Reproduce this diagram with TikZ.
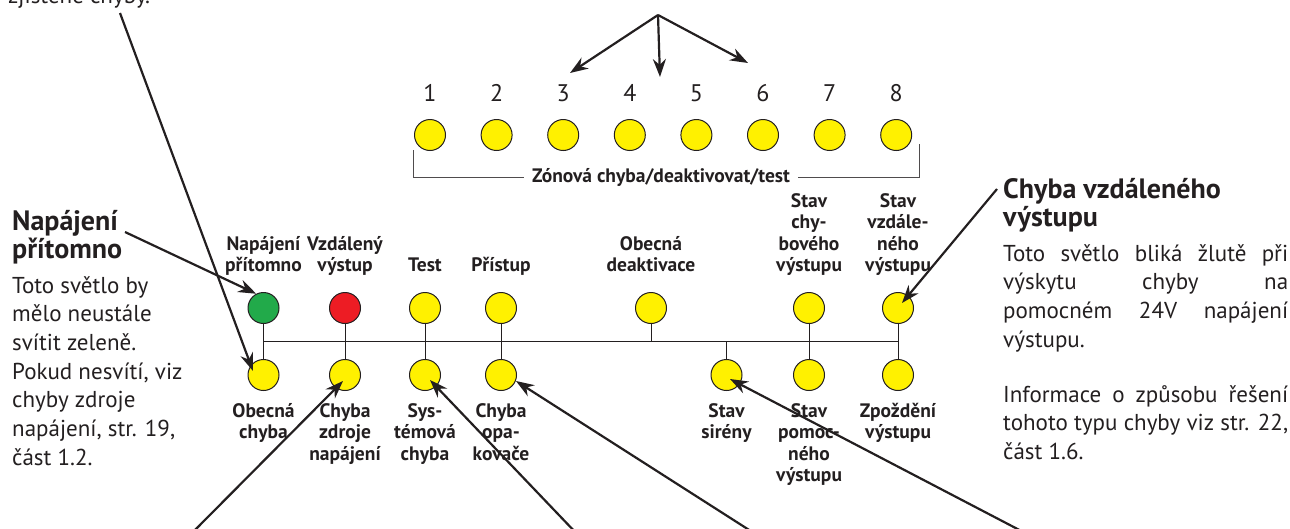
\documentclass[tikz,border=0pt]{standalone}
\usepackage{fontspec}
\setmainfont{PT Sans}
\usetikzlibrary{arrows.meta,calc}

\definecolor{ledyellow}{HTML}{FFF100}
\definecolor{ledgreen}{HTML}{22AA4A}
\definecolor{ledred}{HTML}{ED1C24}
\definecolor{ink}{HTML}{231F20}

\tikzset{
  led/.style={circle,draw=ink,line width=1pt,minimum size=31pt,inner sep=0pt,fill=ledyellow},
  num/.style={font=\fontsize{24}{28}\selectfont,inner sep=0pt},
  toplbl/.style={font=\fontsize{19.5}{21.5}\selectfont\bfseries,align=center,anchor=south,inner sep=0pt},
  botlbl/.style={font=\fontsize{19.5}{21.5}\selectfont\bfseries,align=center,anchor=north,inner sep=0pt},
  zonelbl/.style={font=\fontsize{19.5}{21.5}\selectfont\bfseries,inner xsep=8pt,inner ysep=0pt},
  head/.style={font=\fontsize{28}{28.5}\selectfont\bfseries,align=left,anchor=north west,inner sep=0pt},
  body/.style={font=\fontsize{23}{28.7}\selectfont,align=left,anchor=north west,inner sep=0pt},
  pointer/.style={line width=2.2pt,-{Stealth[length=18pt,width=13pt]}},
  bus/.style={line width=1pt,draw=ink},
  bracket/.style={line width=1pt,draw=ink!80},
}

\begin{document}
\begin{tikzpicture}[x=1pt,y=-1pt,color=ink]
\useasboundingbox (0,0) rectangle (1290,528);
\clip (0,0) rectangle (1290,528);

\node[anchor=base west,font=\fontsize{23}{28.7}\selectfont,inner sep=0pt] (prevtext) at (8,3.5) {zjištěné chyby.};

\foreach \i in {1,...,8}{
  \node[led] (z\i) at ({430+66.6*(\i-1)},135) {};
  \node[num] (n\i) at ({430+66.6*(\i-1)},93) {\i};
}

\node[zonelbl] (zonetext) at (661,177) {Zónová chyba/deaktivovat/test};
\coordinate (brL) at (413,150);
\coordinate (brR) at (919,144);
\draw[bracket] (zonetext.west) -| (brL);
\draw[bracket] (zonetext.east) -| (brR);

\coordinate (zsrc) at (658,15);
\coordinate (ztipA) at (570,73);
\coordinate (ztipB) at (660,77);
\coordinate (ztipC) at (748,63);
\draw[pointer] (zsrc) -- (ztipA);
\draw[pointer] (zsrc) -- (ztipB);
\draw[pointer] (zsrc) -- (ztipC);

\node[led,fill=ledgreen] (napajeni) at (263.5,308) {};
\node[led,fill=ledred] (vzdaleny) at (345,308) {};
\node[led] (test) at (425,308) {};
\node[led] (pristup) at (501,308) {};
\node[led] (deakt) at (651,308) {};
\node[led] (chybvyst) at (809,308) {};
\node[led] (vzdvyst) at (898,308) {};

\node[toplbl] (napajeniL) at (263.5,276) {Napájení\\přítomno};
\node[toplbl] (vzdalenyL) at (345,276) {Vzdálený\\výstup};
\node[toplbl] (testL) at (425,276) {Test\vphantom{p}};
\node[toplbl] (pristupL) at (501,276) {Přístup};
\node[toplbl] (deaktL) at (651,276) {Obecná\\deaktivace\vphantom{p}};
\node[toplbl] (chybvystL) at (809,276) {Stav\\chy-\\bového\\výstupu};
\node[toplbl] (vzdvystL) at (898,276) {Stav\\vzdále-\\ného\\výstupu};

\node[led] (obecna) at (263.5,375) {};
\node[led] (zdroj) at (345,375) {};
\node[led] (system) at (425,375) {};
\node[led] (opakovac) at (501,375) {};
\node[led] (sirena) at (726.5,375) {};
\node[led] (pomocny) at (809,375) {};
\node[led] (zpozdeni) at (898,375) {};

\node[botlbl] (obecnaL) at (263.5,403) {Obecná\\chyba};
\node[botlbl] (zdrojL) at (345,403) {Chyba\\zdroje\\napájení};
\node[botlbl] (systemL) at (425,403) {Sys-\\témová\\chyba};
\node[botlbl] (opakovacL) at (501,403) {Chyba\\opa-\\kovače};
\node[botlbl] (sirenaL) at (726.5,403) {Stav\\sirény};
\node[botlbl] (pomocnyL) at (809,403) {Stav\\pomoc-\\ného\\výstupu};
\node[botlbl] (zpozdeniL) at (898,403) {Zpoždění\\výstupu};

\coordinate (busL) at (263.5,341);
\draw[bus] (napajeni.south) -- (obecna.north);
\draw[bus] (vzdaleny.south) -- (zdroj.north);
\draw[bus] (test.south) -- (system.north);
\draw[bus] (pristup.south) -- (opakovac.north);
\draw[bus] (chybvyst.south) -- (pomocny.north);
\draw[bus] (vzdvyst.south) -- (zpozdeni.north);
\draw[bus] (napajeni.south |- busL) -- (vzdvyst.south |- busL);
\draw[bus] (deakt.south) -- (deakt.south |- busL);
\draw[bus] (sirena.north) -- (sirena.north |- busL);

\node[head] (napHead) at (12,210) {Napájení\\přítomno};
\node[body] (napText) at (12,276) {Toto světlo by\\mělo neustále\\svítit zeleně.\\Pokud nesvítí, viz\\chyby zdroje\\napájení, str. 19,\\část 1.2.};

\node[head] (vzdHead) at (1003,178) {Chyba vzdáleného\\výstupu};
\node[body,text width=285pt,align=justify] (vzdText) at (1003,244) {Toto světlo bliká žlutě při\linebreak výskytu chyby na\linebreak pomocném 24V napájení\linebreak výstupu.};
\node[body,text width=285pt,align=justify] (infoText) at (1003,385) {Informace o způsobu řešení\linebreak tohoto typu chyby viz str. 22,\linebreak část 1.6.};

\coordinate (tlsrc) at (120,13);
\coordinate (napsrc) at (125,232);
\coordinate (vzdsrc) at (997,189);
\coordinate (zdrojsrc) at (190,535);
\coordinate (systemsrc) at (578,535);
\coordinate (opakovacsrc) at (757,535);
\coordinate (sirenasrc) at (1029,535);

\draw[pointer] (tlsrc) -- ([shift={(-10.5,-4)}]obecna.center);
\draw[pointer] (napsrc) -- (napajeni.117);
\draw[pointer] (vzdsrc) -- ([shift={(4,-5)}]vzdvyst.center);
\draw[pointer] (zdrojsrc) -- ([shift={(-2,6)}]zdroj.center);
\draw[pointer] (systemsrc) -- ([shift={(5,5)}]system.center);
\draw[pointer] (opakovacsrc) -- ([shift={(15,6)}]opakovac.center);
\draw[pointer] (sirenasrc) -- ([shift={(3.5,4)}]sirena.center);
\end{tikzpicture}
\end{document}
